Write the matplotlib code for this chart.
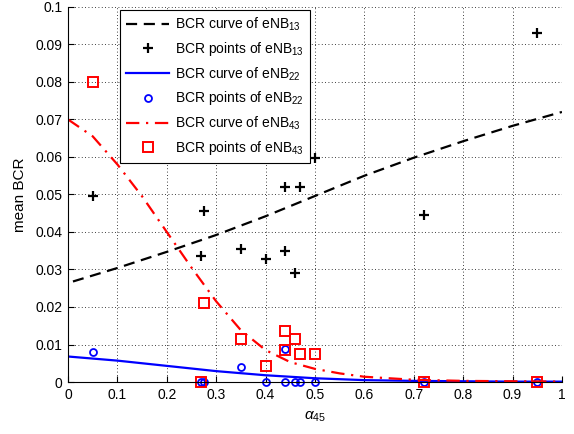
import matplotlib
matplotlib.use("Agg")
import matplotlib.pyplot as plt

plt.rcParams['font.family'] = ['Liberation Sans', 'DejaVu Sans']
plt.rcParams['mathtext.fontset'] = 'custom'
plt.rcParams['mathtext.rm'] = 'Liberation Sans'
plt.rcParams['mathtext.it'] = 'Liberation Sans:italic'

# sample locations (alpha_45) shared by the three point sets
x_pts = [0.05, 0.27, 0.275, 0.35, 0.40, 0.44, 0.44, 0.46, 0.47, 0.50, 0.72, 0.95]
enb13_pts = [0.0495, 0.0335, 0.0457, 0.0355, 0.0328, 0.0348, 0.052, 0.029, 0.052, 0.0597, 0.0446, 0.093]
enb22_pts = [0.008, 0.0, 0.0, 0.004, 0.0, 0.0087, 0.0, 0.0, 0.0, 0.0, 0.0, 0.0]
enb43_pts = [0.080, 0.0, 0.021, 0.0115, 0.0043, 0.0137, 0.0085, 0.0114, 0.0075, 0.0075, 0.0, 0.0]

# fitted curves
x_c13 = [0.01, 0.1, 0.2, 0.3, 0.4, 0.5, 0.6, 0.7, 0.8, 0.9, 1.0]
y_c13 = [0.0268, 0.0304, 0.0347, 0.0392, 0.0442, 0.0496, 0.0550, 0.0598, 0.0642, 0.0683, 0.0720]

x_c22 = [0.0, 0.1, 0.2, 0.3, 0.4, 0.5, 0.6, 0.7, 0.8, 0.9, 1.0]
y_c22 = [0.0068, 0.0057, 0.0043, 0.0029, 0.0018, 0.0010, 0.0005, 0.0003, 0.0002, 0.0001, 0.0001]

x_c43 = [0.0, 0.05, 0.1, 0.15, 0.2, 0.25, 0.3, 0.35, 0.4, 0.45, 0.5, 0.55, 0.6, 0.7, 0.8, 0.9, 1.0]
y_c43 = [0.070, 0.0655, 0.0580, 0.0495, 0.0400, 0.0305, 0.0215, 0.0138, 0.0085, 0.0053,
         0.0035, 0.0023, 0.0014, 0.0006, 0.0003, 0.0002, 0.0001]

fig = plt.figure(figsize=(5.74, 4.34), dpi=100)
ax = fig.add_axes([0.1185, 0.1198, 0.8605, 0.8642])

ax.plot(x_c13, y_c13, color="black", linestyle=(0, (5, 3)), linewidth=1.6,
        label="BCR curve of eNB$_{13}$")
ax.plot(x_pts, enb13_pts, linestyle="none", marker="+", color="black", markersize=6.5,
        markeredgewidth=1.6, clip_on=False, label="BCR points of eNB$_{13}$")
ax.plot(x_c22, y_c22, color="blue", linewidth=1.6, label="BCR curve of eNB$_{22}$")
ax.plot(x_pts, enb22_pts, linestyle="none", marker="o", markerfacecolor="none",
        markeredgecolor="blue", markersize=5, markeredgewidth=1.3, clip_on=False,
        label="BCR points of eNB$_{22}$")
ax.plot(x_c43, y_c43, color="red", linestyle=(0, (6, 3, 1, 3)), linewidth=1.6,
        label="BCR curve of eNB$_{43}$")
ax.plot(x_pts, enb43_pts, linestyle="none", marker="s", markerfacecolor="none",
        markeredgecolor="red", markersize=6.5, markeredgewidth=1.4, clip_on=False,
        label="BCR points of eNB$_{43}$")

ax.set_xlim(0, 1)
ax.set_ylim(0, 0.1)
ax.set_xticks([i / 10 for i in range(11)])
ax.set_xticklabels(["0", "0.1", "0.2", "0.3", "0.4", "0.5", "0.6", "0.7", "0.8", "0.9", "1"])
ax.set_yticks([i / 100 for i in range(11)])
ax.set_yticklabels(["0"] + ["%.2f" % (i / 100) for i in range(1, 10)] + ["0.1"])
ax.tick_params(direction="in", length=4, width=0.8, labelsize=10, top=False, right=False, pad=4)

ax.grid(True, linestyle=(0, (1, 3)), color="black", linewidth=0.6)
ax.spines["top"].set_visible(False)
ax.spines["right"].set_visible(False)

ax.set_xlabel(r"$\alpha_{45}$", fontsize=11, labelpad=6)
ax.set_ylabel("mean BCR", fontsize=11, labelpad=6)

leg = ax.legend(loc="upper left", bbox_to_anchor=(0.105, 0.993), borderaxespad=0,
                fontsize=10, frameon=True, fancybox=False, edgecolor="black", framealpha=1,
                handlelength=3.1, handletextpad=0.4, numpoints=1, labelspacing=0.5,
                borderpad=0.45)
leg.get_frame().set_linewidth(0.8)

fig.savefig("out.png", dpi=100)
